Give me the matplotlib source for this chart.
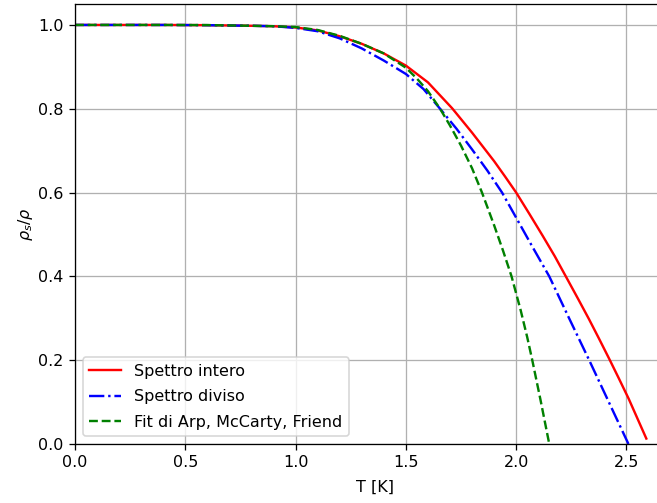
import matplotlib
matplotlib.use("Agg")
import matplotlib.pyplot as plt

# Superfluid fraction rho_s/rho versus temperature
T_intero = [0.0, 0.4, 0.6, 0.8, 0.9, 1.0, 1.1, 1.2, 1.3, 1.4, 1.5, 1.6, 1.71,
            1.8, 1.9, 1.95, 2.0, 2.06, 2.12, 2.175, 2.225, 2.28, 2.33, 2.375,
            2.422, 2.465, 2.51, 2.59]
rho_intero = [1.0, 1.0, 0.9995, 0.998, 0.997, 0.994, 0.987, 0.973, 0.955, 0.932,
              0.903, 0.863, 0.801, 0.743, 0.675, 0.638, 0.600, 0.549, 0.497,
              0.448, 0.400, 0.347, 0.298, 0.252, 0.203, 0.157, 0.108, 0.013]

T_diviso = [0.0, 0.4, 0.6, 0.8, 0.9, 1.0, 1.1, 1.2, 1.3, 1.4, 1.5, 1.58, 1.655,
            1.73, 1.8, 1.87, 1.936, 2.0, 2.07, 2.15, 2.24, 2.331, 2.42, 2.509]
rho_diviso = [1.0, 1.0, 0.9995, 0.998, 0.997, 0.993, 0.985, 0.968, 0.944, 0.915,
              0.883, 0.847, 0.800, 0.752, 0.703, 0.652, 0.600, 0.540, 0.474,
              0.400, 0.300, 0.200, 0.100, 0.0]

T_fit = [0.0, 0.4, 0.6, 0.8, 0.9, 1.0, 1.1, 1.2, 1.3, 1.4, 1.5, 1.55, 1.6, 1.655,
         1.7, 1.75, 1.8, 1.845, 1.9, 1.94, 1.979, 2.02, 2.05, 2.073, 2.11, 2.15]
rho_fit = [1.0, 1.0, 0.9997, 0.998, 0.997, 0.995, 0.988, 0.974, 0.955, 0.932,
           0.898, 0.872, 0.842, 0.800, 0.760, 0.712, 0.658, 0.600, 0.522, 0.462,
           0.400, 0.320, 0.255, 0.200, 0.106, 0.0]

DPI = 115
fig = plt.figure(figsize=(657 / DPI, 503 / DPI), dpi=DPI)
ax = fig.add_axes([75 / 657, 59 / 503, 600 / 657, 440 / 503])

ax.plot(T_intero, rho_intero, "r-", label="Spettro intero")
ax.plot(T_diviso, rho_diviso, "b-.", label="Spettro diviso")
ax.plot(T_fit, rho_fit, "g--", label="Fit di Arp, McCarty, Friend")

ax.set_xlim(0, 2.72)
ax.set_ylim(0, 1.05)
ax.grid(True)
ax.set_xlabel("T [K]", labelpad=6)
ax.set_ylabel(r"$\rho_s/\rho$", labelpad=2)
ax.legend(loc="lower left", labelspacing=0.65)

fig.savefig("out.png", dpi=DPI)
